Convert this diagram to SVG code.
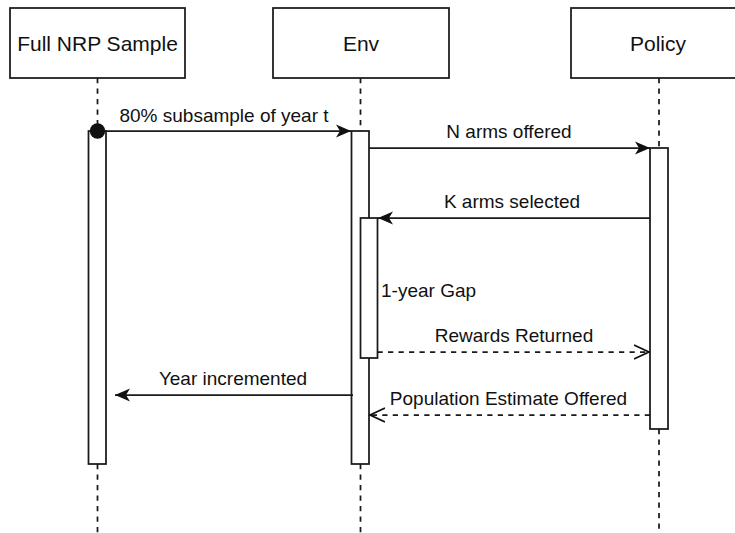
<svg xmlns="http://www.w3.org/2000/svg" width="735" height="533" viewBox="0 0 735 533">
<defs>
<style>
.box{fill:#fff;stroke:#1a1a1a;stroke-width:1.75}
.life{stroke:#1a1a1a;stroke-width:1.75;stroke-dasharray:5.25 5.25;fill:none}
.msg{stroke:#1a1a1a;stroke-width:1.75;fill:none}
.ret{stroke:#1a1a1a;stroke-width:1.75;fill:none;stroke-dasharray:5.25 5.25}
.hdr{font-family:"Liberation Sans",Arial,sans-serif;font-size:21px;fill:#111;text-anchor:middle}
.lbl{font-family:"Liberation Sans",Arial,sans-serif;font-size:19px;fill:#111;text-anchor:middle}
</style>
<marker id="fill" markerWidth="16" markerHeight="14" refX="15" refY="7" orient="auto" markerUnits="userSpaceOnUse">
<path d="M0,0.5 L15,7 L0,13.5 L4,7 Z" fill="#111" stroke="none"/>
</marker>
<marker id="open" markerWidth="18" markerHeight="18" refX="15" refY="8" orient="auto" markerUnits="userSpaceOnUse">
<path d="M0,1 L15,8 L0,15" fill="none" stroke="#111" stroke-width="1.75"/>
</marker>
</defs>

<g id="lifelines">
<line class="life" x1="97.5" y1="78" x2="97.5" y2="131"/>
<line class="life" x1="97.5" y1="464" x2="97.5" y2="533"/>
<line class="life" x1="360.5" y1="78" x2="360.5" y2="131"/>
<line class="life" x1="360.5" y1="464" x2="360.5" y2="533"/>
<line class="life" x1="659" y1="78" x2="659" y2="148"/>
<line class="life" x1="659" y1="429" x2="659" y2="533"/>
</g>

<g id="full-nrp-sample">
<rect class="box" x="10" y="8" width="175" height="70"/>
<text class="hdr" x="97.5" y="51">Full NRP Sample</text>
<rect class="box" x="88.5" y="131" width="17.5" height="333"/>
</g>

<g id="env">
<rect class="box" x="273" y="8" width="176" height="70"/>
<text class="hdr" x="361" y="51">Env</text>
<rect class="box" x="351.5" y="131" width="17.5" height="333"/>
<rect class="box" x="360.5" y="218" width="17" height="140"/>
<text class="lbl" x="381" y="297" style="text-anchor:start">1-year Gap</text>
</g>

<g id="policy">
<rect class="box" x="571" y="8" width="176" height="70"/>
<text class="hdr" x="658" y="51">Policy</text>
<rect class="box" x="650" y="148" width="18" height="281"/>
</g>

<g id="connectors">
<line class="msg" x1="97.5" y1="131" x2="351" y2="131" marker-end="url(#fill)"/>
<circle cx="97.5" cy="131" r="7.7" fill="#111"/>
<text class="lbl" x="224" y="121.5">80% subsample of year t</text>

<line class="msg" x1="369" y1="148" x2="650" y2="148" marker-end="url(#fill)"/>
<text class="lbl" x="509" y="138">N arms offered</text>

<line class="msg" x1="650" y1="218" x2="378" y2="218" marker-end="url(#fill)"/>
<text class="lbl" x="512" y="208">K arms selected</text>

<line class="ret" x1="377.5" y1="352" x2="649" y2="352" marker-end="url(#open)"/>
<text class="lbl" x="514" y="341.5">Rewards Returned</text>

<line class="msg" x1="353" y1="395" x2="115" y2="395" marker-end="url(#fill)"/>
<text class="lbl" x="233" y="385">Year incremented</text>

<line class="ret" x1="650" y1="415" x2="370" y2="415" marker-end="url(#open)"/>
<text class="lbl" x="508.5" y="405">Population Estimate Offered</text>
</g>
</svg>
